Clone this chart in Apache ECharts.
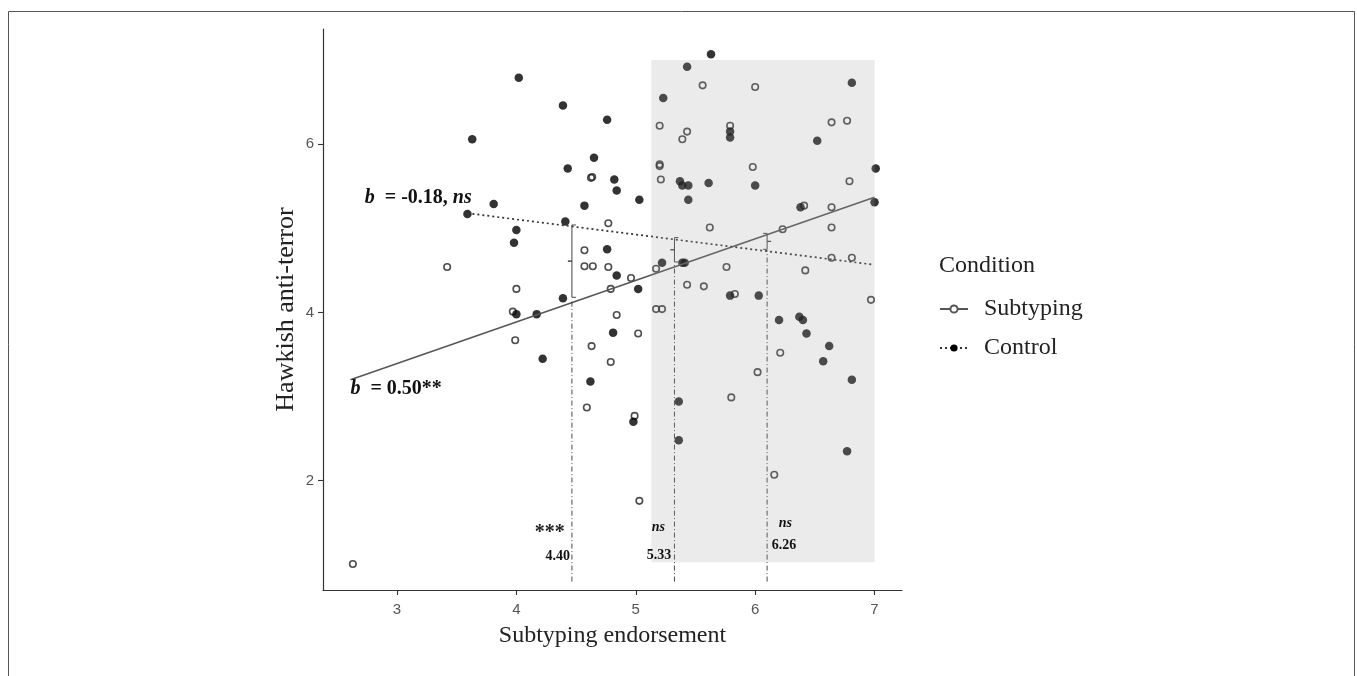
<!DOCTYPE html>
<html>
<head>
<meta charset="utf-8">
<script src="https://cdn.jsdelivr.net/npm/echarts@6/dist/echarts.min.js"></script>
<style>html,body{margin:0;padding:0;background:#fff}#c{width:1357px;height:676px}</style>
</head>
<body>
<div id="c"></div>
<script>
// ---- data ----
const xTicks = [3, 4, 5, 6, 7];
const yTicks = [2, 4, 6];

// Subtyping condition (open circles)
const subX = [4.625,4.635,3.42,4.77,4.57,4.57,4.64,4.77,4.00,4.96,4.79,5.17,3.97,4.84,3.99,5.02,4.63,4.79,4.59,4.99,5.03,2.63,5.17,5.22,
  5.56,6.00,5.20,5.43,5.39,5.79,6.64,6.77,5.20,5.20,5.21,5.98,6.79,6.41,6.64,6.64,5.62,6.23,6.64,6.81,5.76,6.42,5.43,5.57,5.83,6.97,6.21,6.02,5.80,6.16];
const subY = [5.60,5.61,4.54,5.06,4.74,4.55,4.55,4.54,4.28,4.41,4.28,4.52,4.01,3.97,3.67,3.75,3.60,3.41,2.87,2.77,1.76,1.01,4.04,4.04,
  6.70,6.68,6.22,6.15,6.06,6.22,6.26,6.28,5.76,5.74,5.58,5.73,5.56,5.27,5.25,5.01,5.01,4.99,4.65,4.65,4.54,4.50,4.33,4.31,4.22,4.15,3.52,3.29,2.99,2.07];

// Control condition (filled circles)
const ctrlX = [4.02,4.39,4.76,3.63,4.65,4.43,4.82,4.84,5.03,4.57,3.81,3.59,4.41,4.00,3.98,4.76,4.84,5.02,4.39,4.00,4.17,4.22,4.81,4.62,4.98,
  5.63,5.43,5.23,6.81,5.79,5.79,6.52,7.01,5.37,5.39,5.44,5.61,6.00,5.44,7.00,6.38,5.22,5.39,5.41,5.79,6.03,6.20,6.37,6.40,6.43,6.62,6.57,6.81,5.36,5.36,6.77];
const ctrlY = [6.79,6.46,6.29,6.06,5.84,5.71,5.58,5.45,5.34,5.27,5.29,5.17,5.08,4.98,4.83,4.75,4.44,4.28,4.17,3.98,3.98,3.45,3.76,3.18,2.70,
  7.07,6.92,6.55,6.73,6.15,6.08,6.04,5.71,5.56,5.51,5.51,5.54,5.51,5.34,5.31,5.25,4.59,4.59,4.59,4.20,4.20,3.91,3.95,3.91,3.75,3.60,3.42,3.20,2.94,2.48,2.35];

// simple slopes (end points)
const subLineX = [2.61, 7.00];
const subLineY = [3.20, 5.37];
const ctrlLineX = [3.59, 6.98];
const ctrlLineY = [5.18, 4.57];

// Johnson-Neyman style markers
const jnX = [4.465, 5.324, 6.10];
const jnBottom = [0.80, 0.80, 0.80];
const jnTop = [4.14, 4.58, 4.74];
const braceLow = [4.18, 4.60, 4.75];
const braceHigh = [5.04, 4.89, 4.94];
const braceDir = [1, 1, -1];

// shaded region
const shadeX = [5.13, 7.00];
const shadeY = [1.03, 7.00];

// annotations
const annoText = ['{bi|b}{b|  = -0.18, }{bi|ns}', '{bi|b}{b|  = 0.50**}', '{ast|***}', '{n|4.40}', '{nsi|ns}', '{n|5.33}', '{nsi|ns}', '{n|6.26}'];
const annoX = [2.73, 2.61, 4.406, 4.448, 5.134, 5.092, 6.197, 6.138];
const annoY = [5.357, 3.095, 1.38, 1.095, 1.44, 1.107, 1.488, 1.226];
const annoAlign = ['left','left','right','right','left','left','left','left'];

const serif = 'Liberation Serif';
const chart = echarts.init(document.getElementById('c'));

const richStyles = {
  b:   {fontFamily: serif, fontSize: 20, fontWeight: 'bold', fill: '#111'},
  bi:  {fontFamily: serif, fontSize: 20, fontWeight: 'bold', fontStyle: 'italic', fill: '#111'},
  ast: {fontFamily: serif, fontSize: 20, fontWeight: 'bold', fill: '#222'},
  n:   {fontFamily: serif, fontSize: 14, fontWeight: 'bold', fill: '#111'},
  nsi: {fontFamily: serif, fontSize: 14, fontWeight: 'bold', fontStyle: 'italic', fill: '#111'}
};

const option = {
  animation: false,
  backgroundColor: '#fff',
  title: {
    text: 'Condition', left: 939, top: 254, padding: 0,
    textStyle: {fontFamily: serif, fontSize: 24, fontWeight: 'normal', color: '#222'}
  },
  legend: {
    orient: 'vertical', left: 939, top: 297, padding: 0,
    itemWidth: 28, itemHeight: 9, itemGap: 15,
    data: ['Subtyping', 'Control'],
    textStyle: {fontFamily: serif, fontSize: 24, color: '#222', lineHeight: 24, padding: [0, 0, 0, 11]},
    selectedMode: false
  },
  grid: {left: 323, right: 455, top: 29, bottom: 86, outerBoundsMode: 'none'},
  xAxis: {
    type: 'value', min: 2.38, max: 7.23,
    name: 'Subtyping endorsement', nameLocation: 'middle', nameGap: 34,
    nameTextStyle: {fontFamily: serif, fontSize: 24, color: '#222'},
    axisLine: {onZero: false, lineStyle: {color: '#333', width: 1.2}},
    axisTick: {show: true, length: 5, customValues: xTicks, lineStyle: {color: '#333', width: 1.1}},
    axisLabel: {customValues: xTicks, fontFamily: 'Liberation Sans', fontSize: 15, color: '#555', margin: 12},
    splitLine: {show: false}
  },
  yAxis: {
    type: 'value', min: 0.70, max: 7.37,
    name: 'Hawkish anti-terror', nameLocation: 'middle', nameGap: 24, nameRotate: 90,
    nameTextStyle: {fontFamily: serif, fontSize: 26, color: '#222'},
    axisLine: {onZero: false, lineStyle: {color: '#333', width: 1.2}},
    axisTick: {show: true, length: 5, customValues: yTicks, lineStyle: {color: '#333', width: 1.1}},
    axisLabel: {customValues: yTicks, fontFamily: 'Liberation Sans', fontSize: 15, color: '#555', margin: 9},
    splitLine: {show: false}
  },
  graphic: [{
    type: 'rect', silent: true, z: 100,
    shape: {x: 8.5, y: 11.5, width: 1346, height: 720},
    style: {fill: 'none', stroke: '#555', lineWidth: 1}
  }],
  series: [
    {
      name: 'Subtyping', type: 'line', z: 3,
      data: subLineX.map((x, i) => [x, subLineY[i]]),
      showSymbol: false, symbol: 'circle', symbolSize: 7,
      lineStyle: {color: '#555', width: 1.4},
      itemStyle: {color: '#fff', borderColor: '#555', borderWidth: 1.5}
    },
    {
      name: 'Control', type: 'line', z: 3,
      data: ctrlLineX.map((x, i) => [x, ctrlLineY[i]]),
      showSymbol: false, symbol: 'circle', symbolSize: 7,
      lineStyle: {color: '#333', width: 1.7, type: [2, 3]},
      itemStyle: {color: '#000'}
    },
    {
      name: 'Subtyping', type: 'scatter', z: 2,
      data: subX.map((x, i) => [x, subY[i]]),
      symbol: 'circle', symbolSize: 6.5,
      itemStyle: {color: 'rgba(0,0,0,0)', borderColor: '#222', borderWidth: 1.6}
    },
    {
      name: 'Control', type: 'scatter', z: 2,
      data: ctrlX.map((x, i) => [x, ctrlY[i]]),
      symbol: 'circle', symbolSize: 8.5,
      itemStyle: {color: '#000'}
    },
    {
      name: 'jn', type: 'custom', z: 4, silent: true,
      data: jnX.map((x, i) => [x, jnBottom[i], jnTop[i]]),
      renderItem: (params, api) => {
        const b = api.coord([api.value(0), api.value(1)]);
        const t = api.coord([api.value(0), api.value(2)]);
        return {type: 'line', shape: {x1: b[0], y1: b[1], x2: t[0], y2: t[1]},
          style: {stroke: '#333', lineWidth: 0.9, lineDash: [5, 2.5, 1, 2.5]}};
      }
    },
    {
      name: 'brace', type: 'custom', z: 4, silent: true,
      data: jnX.map((x, i) => [x, braceLow[i], braceHigh[i], braceDir[i]]),
      renderItem: (params, api) => {
        const lo = api.coord([api.value(0), api.value(1)]);
        const hi = api.coord([api.value(0), api.value(2)]);
        const d = api.value(3);
        const x = lo[0], m = (lo[1] + hi[1]) / 2, w = 4;
        return {type: 'polyline', shape: {points: [[x + d * w, hi[1]], [x, hi[1]], [x, m], [x - d * w, m], [x, m], [x, lo[1]], [x + d * w, lo[1]]]},
          style: {stroke: '#444', lineWidth: 1, fill: null}};
      }
    },
    {
      name: 'shade', type: 'custom', z: 6, silent: true,
      data: [[shadeX[0], shadeY[0], shadeX[1], shadeY[1]]],
      renderItem: (params, api) => {
        const p0 = api.coord([api.value(0), api.value(1)]);
        const p1 = api.coord([api.value(2), api.value(3)]);
        return {type: 'rect', shape: {x: p0[0], y: p1[1], width: p1[0] - p0[0], height: p0[1] - p1[1]},
          style: {fill: 'rgba(160,160,160,0.21)'}};
      }
    },
    {
      name: 'anno', type: 'custom', z: 8, silent: true, clip: false,
      data: annoX.map((x, i) => [x, annoY[i], i]),
      renderItem: (params, api) => {
        const i = api.value(2);
        const p = api.coord([api.value(0), api.value(1)]);
        return {type: 'text', x: p[0], y: p[1],
          style: {text: annoText[i], align: annoAlign[i], verticalAlign: 'middle', rich: richStyles, fill: '#111'}};
      }
    }
  ]
};
chart.setOption(option);
</script>
</body>
</html>
